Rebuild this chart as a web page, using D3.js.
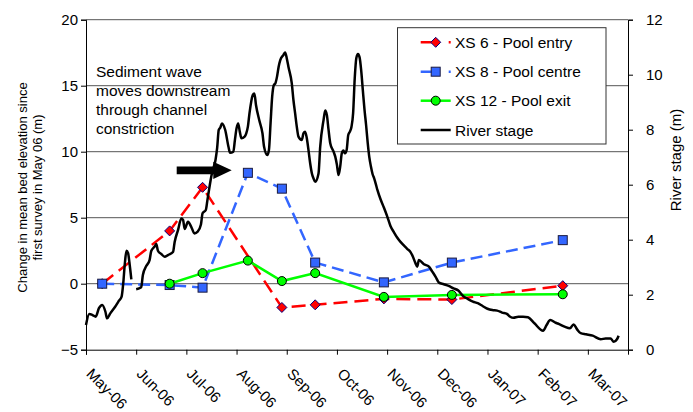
<!DOCTYPE html>
<html>
<head>
<meta charset="utf-8">
<script src="https://cdn.jsdelivr.net/npm/d3@7/dist/d3.min.js"></script>
<style>
  body { margin: 0; background: #fff; }
  svg { display: block; }
  text { font-family: Arial, "Liberation Sans", sans-serif; fill: #000; }
</style>
</head>
<body>
<svg id="chart" width="693" height="412"></svg>
<script>
// ---- Data ---------------------------------------------------------------
const monthLabels = ["May-06", "Jun-06", "Jul-06", "Aug-06", "Sep-06", "Oct-06",
                     "Nov-06", "Dec-06", "Jan-07", "Feb-07", "Mar-07"];
const leftTicks = [-5, 0, 5, 10, 15, 20];
const rightTicks = [0, 2, 4, 6, 8, 10, 12];

// Survey dates and change in mean bed elevation (m) at each cross-section
const surveyDates = ["2006-05-11", "2006-06-21", "2006-07-11", "2006-08-08", "2006-08-29",
                     "2006-09-18", "2006-10-30", "2006-12-10", "2007-02-15"];
const xs6  = [0.0, 4.0, 7.3, null, -1.8, -1.6, -1.15, -1.2, -0.15];
const xs8  = [0.0, -0.1, -0.3, 8.4, 7.2, 1.6, 0.1, 1.6, 3.3];
const xs12 = [null, 0.0, 0.8, 1.75, 0.2, 0.8, -1.0, -0.85, -0.8];

// River stage (m): day number counted from 1 May 2006, and stage; null = missing record
const stageDay = [0,2,4,6,8,10,12,13,15,18,20,22,23,24,25,26,27,28,29,
  31,34,35,37,39,40,42,43,44,46,48,50,53,54,56,58,59,60,62,64,66,68,70,71,73,74,75,76,77,79,80,
  81,82,83,85,87,88,90,91,92,93,94,95,97,98,99,100,102,103,104,106,108,109,111,112,113,114,115,
  116,117,118,119,121,122,123,124,126,127,128,129,130,132,133,134,135,136,137,138,139,140,142,
  143,145,146,147,148,149,151,152,153,154,155,156,157,158,159,160,161,162,163,164,165,166,167,
  168,169,170,171,172,173,174,175,176,177,178,180,182,184,186,188,190,192,194,196,198,199,201,
  202,203,206,209,211,213,215,218,221,224,227,230,233,236,239,242,245,248,251,254,257,259,261,
  264,267,270,274,279,281,283,286,288,291,294,296,298,300,303,307,312,315,318,320,322,323];
const stageValue = [0.90,1.30,1.26,1.20,1.51,1.63,1.38,1.14,1.32,1.56,1.75,1.93,2.41,3.14,3.60,3.51,3.08,2.56,null,
  2.20,2.27,2.72,3.04,3.26,3.59,3.75,3.84,3.60,3.48,3.38,3.44,3.55,3.92,4.35,4.77,4.72,4.39,4.65,4.47,4.23,4.29,4.55,4.96,5.08,5.44,5.81,6.17,6.47,6.90,7.33,
  7.99,8.08,8.23,7.99,7.38,7.16,7.20,7.63,8.05,8.23,7.93,7.69,7.75,7.87,8.11,8.60,9.26,9.32,8.90,8.35,7.87,7.38,7.08,7.26,8.23,9.20,9.62,
  9.69,9.93,10.29,10.53,10.72,10.81,10.60,10.29,9.69,9.08,8.60,8.11,7.75,7.63,7.87,7.93,7.69,7.26,6.78,6.42,6.23,6.11,6.41,
  7.38,8.35,8.70,8.53,7.99,7.51,7.20,7.02,6.72,6.35,6.65,7.14,7.24,7.14,7.26,7.81,7.93,8.11,8.60,9.87,10.61,10.75,10.63,
  10.15,9.44,8.75,8.18,7.53,7.00,6.66,6.39,6.23,6.03,5.81,5.46,5.17,4.86,4.50,4.28,4.08,3.92,3.79,3.67,3.55,3.44,3.14,
  3.02,3.26,3.11,3.02,2.84,2.65,2.44,2.38,2.32,2.23,2.15,1.95,1.84,1.75,1.69,1.59,1.49,1.44,1.42,1.35,1.30,1.20,1.16,
  1.20,1.20,1.18,0.96,0.69,0.90,1.08,0.98,0.93,0.84,0.78,0.92,0.74,0.60,0.56,0.51,0.38,0.41,0.41,0.29,0.38,0.51];

const seriesNames = ["XS 6 - Pool entry", "XS 8 - Pool centre", "XS 12 - Pool exit", "River stage"];

// ---- Layout ---------------------------------------------------------------
const svg = d3.select("#chart");
const plot = { left: 86, right: 628, top: 19.7, bottom: 349.7 };

// Each calendar month gets the same width on the time axis
function monthPos(d) {
  const m = (d.getFullYear() - 2006) * 12 + d.getMonth() - 4;
  const dim = new Date(d.getFullYear(), d.getMonth() + 1, 0).getDate();
  return m + (d.getDate() - 1) / dim;
}
const parse = d3.timeParse("%Y-%m-%d");
const start = new Date(2006, 4, 1);

const x = d3.scaleLinear().domain([0, 10.8]).range([plot.left, plot.right]);
const y = d3.scaleLinear().domain([-5, 20]).range([plot.bottom, plot.top]);
const y2 = d3.scaleLinear().domain([0, 12]).range([plot.bottom, plot.top]);

// Gridlines
svg.append("g").selectAll("line").data(leftTicks.filter(v => v > -5)).join("line")
  .attr("x1", plot.left).attr("x2", plot.right)
  .attr("y1", d => y(d)).attr("y2", d => y(d))
  .attr("stroke", "#555").attr("stroke-width", 1);

// Left axis
const gL = svg.append("g").attr("transform", `translate(${plot.left},0)`)
  .call(d3.axisLeft(y).tickValues(leftTicks).tickSize(5).tickPadding(3));
// Right axis
const gR = svg.append("g").attr("transform", `translate(${plot.right},0)`)
  .call(d3.axisRight(y2).tickValues(rightTicks).tickSize(5).tickPadding(13));
// Bottom axis
const gB = svg.append("g").attr("transform", `translate(0,${plot.bottom})`)
  .call(d3.axisBottom(x).tickValues(d3.range(11)).tickSize(5).tickFormat(i => monthLabels[i]));

[gL, gR, gB].forEach(g => {
  g.select(".domain").attr("stroke", "#000").attr("stroke-width", 1);
  g.selectAll(".tick line").attr("stroke", "#000");
  g.selectAll("text").attr("font-size", 15).attr("font-family", "Arial, 'Liberation Sans', sans-serif").attr("fill", "#000");
});
gB.selectAll(".tick text")
  .attr("text-anchor", "start")
  .attr("dy", 0).attr("y", 0)
  .attr("transform", "translate(-1,25) rotate(45)");

// Axis titles
svg.append("text").attr("transform", "translate(22,187.5) rotate(-90)")
  .attr("text-anchor", "middle").attr("dy", "0.35em").attr("font-size", 13)
  .text("Change in mean bed elevation since");
svg.append("text").attr("transform", "translate(37.5,187.5) rotate(-90)")
  .attr("text-anchor", "middle").attr("dy", "0.35em").attr("font-size", 13)
  .text("first survey in May 06 (m)");
svg.append("text").attr("transform", "translate(676,160) rotate(-90)")
  .attr("text-anchor", "middle").attr("dy", "0.35em").attr("font-size", 15)
  .text("River stage (m)");

// ---- Survey series ----------------------------------------------------------
const surveyX = surveyDates.map(s => x(monthPos(parse(s))));
const styles = [
  { values: xs6,  color: "#ff0000", dash: "14,7", marker: "diamond" },
  { values: xs8,  color: "#3366ff", dash: "12,6", marker: "square" },
  { values: xs12, color: "#00ff00", dash: null,   marker: "circle" }
];

const lineGen = d3.line().x(d => d.x).y(d => d.y);

function drawMarker(g, type, color, cx, cy) {
  if (type === "diamond") {
    g.append("path").attr("d", `M${cx},${cy - 5}L${cx + 5},${cy}L${cx},${cy + 5}L${cx - 5},${cy}Z`)
      .attr("fill", color).attr("stroke", "#000080").attr("stroke-width", 1);
  } else if (type === "square") {
    g.append("rect").attr("x", cx - 4.5).attr("y", cy - 4.5).attr("width", 9).attr("height", 9)
      .attr("fill", color).attr("stroke", "#1a1a40").attr("stroke-width", 1);
  } else {
    g.append("circle").attr("cx", cx).attr("cy", cy).attr("r", 4.5)
      .attr("fill", color).attr("stroke", "#000").attr("stroke-width", 1);
  }
}

styles.forEach(s => {
  const pts = s.values.map((v, i) => v == null ? null : { x: surveyX[i], y: y(v) }).filter(p => p);
  const g = svg.append("g");
  g.append("path").attr("d", lineGen(pts)).attr("fill", "none")
    .attr("stroke", s.color).attr("stroke-width", 2.5)
    .attr("stroke-dasharray", s.dash);
  pts.forEach(p => drawMarker(g, s.marker, s.color, p.x, p.y));
});

// ---- River stage (secondary axis) -----------------------------------------
const stagePts = stageDay.map((d, i) => ({
  x: x(monthPos(d3.timeDay.offset(start, d))),
  v: stageValue[i]
}));
svg.append("path")
  .attr("d", d3.line().defined(p => p.v != null).x(p => p.x).y(p => y2(p.v)).curve(d3.curveMonotoneX)(stagePts))
  .attr("fill", "none").attr("stroke", "#000").attr("stroke-width", 2.5).attr("stroke-linejoin", "round");

// ---- Annotation --------------------------------------------------------------
const note = ["Sediment wave", "moves downstream", "through channel", "constriction"];
svg.append("g").selectAll("text").data(note).join("text")
  .attr("x", 96).attr("y", (d, i) => 76.5 + i * 19)
  .attr("font-size", 15.5).text(d => d);

// Arrow pointing at the August survey
svg.append("path")
  .attr("d", "M176.7,166.5L213.3,166.5L213.3,161.7L231.7,170.3L213.3,179L213.3,174.2L176.7,174.2Z")
  .attr("fill", "#000");

// ---- Legend --------------------------------------------------------------------
const lg = svg.append("g");
lg.append("rect").attr("x", 397.5).attr("y", 27.7).attr("width", 208.5).attr("height", 116.3)
  .attr("fill", "#fff").attr("stroke", "#333").attr("stroke-width", 1);
const legendY = [42.3, 71.7, 100.7, 130];
const legendItems = [
  { color: "#ff0000", dash: "13,15,3,50", marker: "diamond" },
  { color: "#3366ff", dash: "13,15,3,50", marker: "square" },
  { color: "#00ff00", dash: null, marker: "circle" },
  { color: "#000", dash: null, marker: null }
];
legendItems.forEach((it, i) => {
  const cy = legendY[i];
  lg.append("line").attr("x1", 420.7).attr("x2", 450.7).attr("y1", cy).attr("y2", cy)
    .attr("stroke", it.color).attr("stroke-width", 2.5).attr("stroke-dasharray", it.dash);
  if (it.marker) drawMarker(lg, it.marker, it.color, 435.7, cy);
  lg.append("text").attr("x", 455).attr("y", cy + 5.5).attr("font-size", 15.5).text(seriesNames[i]);
});
</script>
</body>
</html>
